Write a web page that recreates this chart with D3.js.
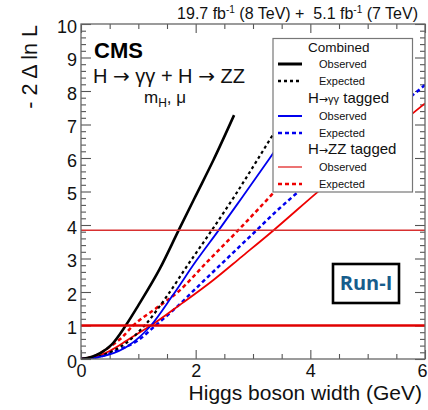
<!DOCTYPE html>
<html>
<head>
<meta charset="utf-8">
<script src="https://cdn.jsdelivr.net/npm/d3@7"></script>
<style>
  html, body { margin: 0; padding: 0; background: #fff; }
  svg { display: block; font-family: "Liberation Sans", Arial, Helvetica, sans-serif; }
</style>
</head>
<body>
<svg id="chart" width="428" height="410"></svg>
<script>
// Profile likelihood scans, -2 Δ ln L versus the Higgs boson width (GeV)

// Axis ticks
const xMajorTicks = [0, 2, 4, 6];
const xMinorTicks = [0.5, 1, 1.5, 2.5, 3, 3.5, 4.5, 5, 5.5];
const yMajorTicks = [0, 1, 2, 3, 4, 5, 6, 7, 8, 9, 10];
const yMinorTicks = d3.range(0, 50).map(i => i / 5).filter(v => v % 1 !== 0);

// Combined H→γγ + H→ZZ, observed
const combObsWidth = [0, 0.18, 0.35, 0.53, 0.78, 1.0, 1.38, 1.7, 2.0, 2.31, 2.67];
const combObsNll   = [0, 0.06, 0.19, 0.42, 1.0, 1.6, 2.71, 3.83, 4.87, 5.94, 7.28];

// Combined, expected
const combExpWidth = [0, 0.3, 0.6, 0.82, 1.11, 1.5, 1.86, 2.28, 2.7, 3.06, 3.33, 3.7, 4.05];
const combExpNll   = [0, 0.07, 0.28, 0.52, 1.0, 1.88, 2.8, 3.84, 4.92, 5.9, 6.65, 7.7, 8.7];

// H→γγ tagged, observed
const ggObsWidth = [0, 0.25, 0.47, 0.82, 1.22, 1.6, 2.01, 2.4, 2.8, 3.27, 3.7, 4.2, 4.5];
const ggObsNll   = [0, 0.04, 0.12, 0.39, 1.0, 1.9, 2.93, 3.84, 4.8, 5.94, 7.0, 8.2, 8.95];

// H→γγ tagged, expected
const ggExpWidth = [0, 0.3, 0.65, 0.99, 1.3, 1.7, 2.0, 2.37, 2.7, 3.06, 3.4, 3.76, 4.3, 4.9, 5.4, 5.83, 6.0];
const ggExpNll   = [0, 0.06, 0.27, 0.55, 1.0, 1.6, 2.1, 2.71, 3.25, 3.84, 4.4, 4.95, 5.78, 6.65, 7.35, 7.94, 8.18];

// H→ZZ tagged, observed
const zzObsWidth = [0, 0.25, 0.5, 0.8, 1.0, 1.22, 1.76, 2.31, 2.8, 3.35, 4.13, 4.9, 5.4, 5.79, 6.0];
const zzObsNll   = [0, 0.07, 0.24, 0.55, 0.77, 1.0, 1.66, 2.36, 3.05, 3.83, 4.99, 6.1, 6.8, 7.34, 7.63];

// H→ZZ tagged, expected
const zzExpWidth = [0, 0.25, 0.5, 0.7, 0.91, 1.3, 1.69, 2.2, 2.74, 3.35, 3.9, 4.5, 5.1];
const zzExpNll   = [0, 0.1, 0.36, 0.62, 1.0, 1.5, 2.0, 2.9, 3.84, 4.95, 6.0, 7.2, 8.5];

// 68% and 95% CL thresholds
const clLevels = [1, 3.84];

const legendObserved = "Observed";
const legendExpected = "Expected";

const svg = d3.select("#chart");

const x = d3.scaleLinear().domain([0, 6]).range([81, 425]);
const y = d3.scaleLinear().domain([0, 10]).range([359, 24]);

const BLACK = "#000000", BLUE = "#0000ee", RED = "#ee0000";
const ARROW_FONT = "'DejaVu Sans', sans-serif";

svg.append("defs").append("clipPath").attr("id", "plotClip")
  .append("rect")
  .attr("x", x(0)).attr("y", y(10))
  .attr("width", x(6) - x(0)).attr("height", y(0) - y(10));

// ---- axes (ticks point into the frame, mirrored on top and right)
const tickStroke = "#555";
function styleAxis(g) {
  g.select(".domain").remove();
  g.selectAll(".tick line").attr("stroke", tickStroke).attr("stroke-width", 1.1);
  g.selectAll(".tick text").attr("fill", "#111").style("font-size", "18px");
}

svg.append("g").attr("transform", `translate(0,${y(0)})`)
  .call(d3.axisBottom(x).tickValues(xMajorTicks).tickSizeInner(-9).tickSizeOuter(0)
        .tickPadding(5).tickFormat(d3.format("d")))
  .call(styleAxis)
  .call(g => g.selectAll(".tick text").filter(d => d === 6).attr("dx", -3));
svg.append("g").attr("transform", `translate(0,${y(0)})`)
  .call(d3.axisBottom(x).tickValues(xMinorTicks).tickSizeInner(-5).tickSizeOuter(0).tickFormat(""))
  .call(styleAxis);
svg.append("g").attr("transform", `translate(0,${y(10)})`)
  .call(d3.axisTop(x).tickValues(xMajorTicks).tickSizeInner(-9).tickSizeOuter(0).tickFormat(""))
  .call(styleAxis);
svg.append("g").attr("transform", `translate(0,${y(10)})`)
  .call(d3.axisTop(x).tickValues(xMinorTicks).tickSizeInner(-5).tickSizeOuter(0).tickFormat(""))
  .call(styleAxis);

svg.append("g").attr("transform", `translate(${x(0)},0)`)
  .call(d3.axisLeft(y).tickValues(yMajorTicks).tickSizeInner(-10).tickSizeOuter(0)
        .tickPadding(4).tickFormat(d3.format("d")))
  .call(styleAxis)
  .call(g => g.selectAll(".tick text").attr("dy", "0.45em"));
svg.append("g").attr("transform", `translate(${x(0)},0)`)
  .call(d3.axisLeft(y).tickValues(yMinorTicks).tickSizeInner(-5).tickSizeOuter(0).tickFormat(""))
  .call(styleAxis);
svg.append("g").attr("transform", `translate(${x(6)},0)`)
  .call(d3.axisRight(y).tickValues(yMajorTicks).tickSizeInner(-10).tickSizeOuter(0).tickFormat(""))
  .call(styleAxis);
svg.append("g").attr("transform", `translate(${x(6)},0)`)
  .call(d3.axisRight(y).tickValues(yMinorTicks).tickSizeInner(-5).tickSizeOuter(0).tickFormat(""))
  .call(styleAxis);

// ---- scan curves
const line = d3.line().x(d => x(d[0])).y(d => y(d[1])).curve(d3.curveMonotoneX);
const zip = (a, b) => a.map((v, i) => [v, b[i]]);

const series = [
  { w: zzExpWidth,   v: zzExpNll,   color: RED,   width: 2.5, dash: "4,3" },
  { w: ggExpWidth,   v: ggExpNll,   color: BLUE,  width: 2.5, dash: "4,3" },
  { w: zzObsWidth,   v: zzObsNll,   color: RED,   width: 1.8, dash: null },
  { w: combExpWidth, v: combExpNll, color: BLACK, width: 2.2, dash: "3,3" },
  { w: ggObsWidth,   v: ggObsNll,   color: BLUE,  width: 1.8, dash: null },
  { w: combObsWidth, v: combObsNll, color: BLACK, width: 2.6, dash: null }
];

const curves = svg.append("g").attr("clip-path", "url(#plotClip)");
series.forEach(s => {
  curves.append("path")
    .datum(zip(s.w, s.v))
    .attr("d", line)
    .attr("fill", "none")
    .attr("stroke", s.color)
    .attr("stroke-width", s.width)
    .attr("stroke-dasharray", s.dash);
});

// ---- confidence level lines
curves.selectAll("line.cl").data(clLevels).join("line")
  .attr("class", "cl")
  .attr("x1", x(0)).attr("x2", x(6))
  .attr("y1", d => y(d)).attr("y2", d => y(d))
  .attr("stroke", d => d === 1 ? "#e00000" : "#d83030")
  .attr("stroke-width", d => d === 1 ? 2.6 : 1.5);

// ---- frame
svg.append("rect")
  .attr("x", x(0)).attr("y", y(10))
  .attr("width", x(6) - x(0)).attr("height", y(0) - y(10))
  .attr("fill", "none").attr("stroke", "#666").attr("stroke-width", 1.3);

// ---- axis titles
svg.append("text")
  .attr("x", 422).attr("y", 400)
  .attr("text-anchor", "end")
  .style("font-size", "21px").attr("fill", "#111")
  .text("Higgs boson width (GeV)");

svg.append("text")
  .attr("transform", "translate(37,25) rotate(-90)")
  .attr("text-anchor", "end")
  .style("font-size", "21.5px").attr("fill", "#111")
  .text("- 2 Δ ln L");

// luminosity label
const lumi = svg.append("text")
  .attr("x", 418).attr("y", 19)
  .attr("text-anchor", "end")
  .style("font-size", "16px").attr("fill", "#111");
lumi.append("tspan").text("19.7 fb");
lumi.append("tspan").attr("dy", -6).style("font-size", "10px").text("-1");
lumi.append("tspan").attr("dy", 6).text(" (8 TeV) +\u00a0\u00a05.1 fb");
lumi.append("tspan").attr("dy", -6).style("font-size", "10px").text("-1");
lumi.append("tspan").attr("dy", 6).text(" (7 TeV)");

// experiment and channel labels
svg.append("text")
  .attr("x", 94).attr("y", 58)
  .style("font-size", "22px").style("font-weight", "bold").attr("fill", "#000")
  .text("CMS");
const proc = svg.append("text")
  .attr("x", 93).attr("y", 83)
  .style("font-size", "20px").attr("fill", "#111");
proc.append("tspan").text("H ");
proc.append("tspan").style("font-family", ARROW_FONT).text("→");
proc.append("tspan").text(" γγ + H ");
proc.append("tspan").style("font-family", ARROW_FONT).text("→");
proc.append("tspan").text(" ZZ");
const params = svg.append("text")
  .attr("x", 144).attr("y", 103)
  .style("font-size", "17px").attr("fill", "#111");
params.append("tspan").text("m");
params.append("tspan").attr("dy", 4).style("font-size", "12px").text("H");
params.append("tspan").attr("dy", -4).text(", μ");

// ---- legend
const lg = svg.append("g");
lg.append("rect")
  .attr("x", 273).attr("y", 38.5).attr("width", 139.5).attr("height", 153.5)
  .attr("fill", "#fff").attr("stroke", "#777").attr("stroke-width", 1.2);

function header(yBase, parts) {
  const t = lg.append("text").attr("x", 308).attr("y", yBase).attr("fill", "#111");
  parts.forEach(p => {
    const ts = t.append("tspan").style("font-size", p[1] + "px").text(p[0]);
    if (p[2]) ts.style("font-family", p[2]);
  });
}
function entry(yLine, color, width, dash, label) {
  lg.append("line")
    .attr("x1", 278).attr("x2", 302).attr("y1", yLine).attr("y2", yLine)
    .attr("stroke", color).attr("stroke-width", width).attr("stroke-dasharray", dash);
  lg.append("text")
    .attr("x", 319).attr("y", yLine + 4)
    .style("font-size", "11px").attr("fill", "#111")
    .text(label);
}

header(52, [["Combined", 13.5]]);
entry(64, BLACK, 3, null, legendObserved);
entry(81, BLACK, 2.5, "3,3", legendExpected);
header(102.5, [["H", 15], ["→", 11, ARROW_FONT], ["γγ", 11], [" tagged", 15]]);
entry(116, BLUE, 2, null, legendObserved);
entry(133, BLUE, 2.5, "4,3", legendExpected);
header(154, [["H", 15], ["→", 11, ARROW_FONT], ["ZZ tagged", 15]]);
entry(167, "#e85050", 1.6, null, legendObserved);
entry(184, RED, 2.5, "4,3", legendExpected);

// ---- Run-I tag
svg.append("rect")
  .attr("x", 333).attr("y", 264).attr("width", 66).attr("height", 39)
  .attr("fill", "#fff").attr("stroke", "#000").attr("stroke-width", 2.6);
svg.append("text")
  .attr("x", 366).attr("y", 290)
  .attr("text-anchor", "middle")
  .style("font-family", "'Open Sans', 'DejaVu Sans', sans-serif")
  .style("font-size", "20px").style("font-weight", "bold")
  .attr("fill", "#175d8c")
  .text("Run-I");
</script>
</body>
</html>
